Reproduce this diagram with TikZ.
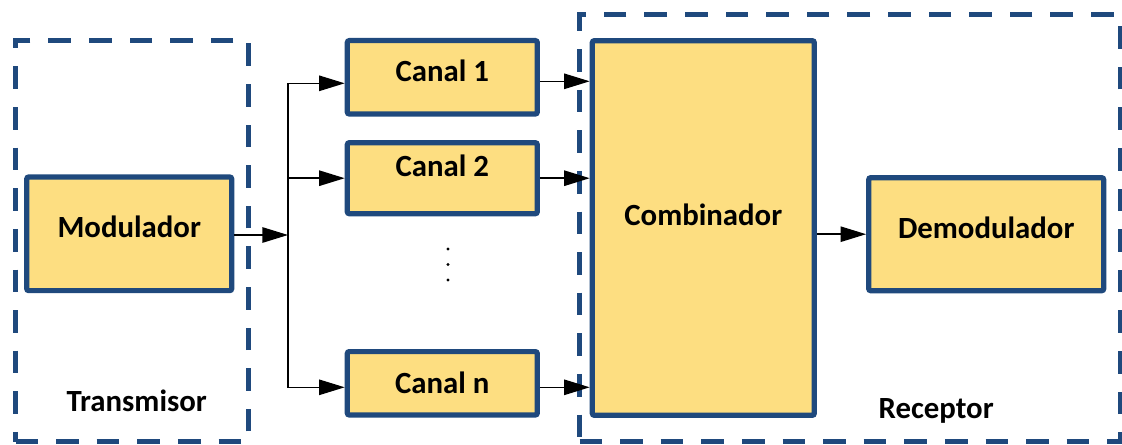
\documentclass[tikz,border=0pt]{standalone}
\usepackage{fontspec}
\setmainfont{Carlito}
\usetikzlibrary{arrows.meta,positioning}
\definecolor{bordeazul}{RGB}{31,73,125}
\definecolor{amarillo}{RGB}{253,222,129}

\begin{document}
\begin{tikzpicture}[x=0.5pt, y=-0.5pt,
    bloque/.style={draw=bordeazul, fill=amarillo, line width=2.6pt, rounded corners=1pt,
      inner sep=0pt, font=\fontsize{15.4}{18}\selectfont\bfseries},
    zona/.style={draw=bordeazul, line width=2.6pt, dash pattern=on 11.3pt off 9pt, inner sep=0pt},
    texto/.style={anchor=base, font=\fontsize{15.4}{18}\selectfont\bfseries},
    flecha/.style={line width=0.75pt, -{Triangle[length=12.8pt, width=7.7pt]}}]
            \useasboundingbox (0,0) rectangle (1122,444);

            % zonas
            \node (7) [zona, minimum width=116.6pt, minimum height=200.5pt] at (132.1,241.2) {};
            \node (8) [zona, minimum width=270.4pt, minimum height=213.45pt] at (849.9,228.25) {};
            \node (11) [texto] at (136.7,411.7) {Transmisor};
            \node (12) [texto] at (936.2,418.3) {Receptor};

            % bloques
            \node (1) [bloque, minimum width=102.5pt, minimum height=56.8pt, text depth=7pt] at (129.2,233.8) {Modulador};
            \node (2) [bloque, minimum width=95pt, minimum height=36.7pt, text depth=6.5pt] at (442.3,77.3) {Canal 1};
            \node (3) [bloque, minimum width=95pt, minimum height=35.5pt, text depth=13pt, node distance=50.45pt, below of=2] {Canal 2};
            \node (4) [bloque, minimum width=95pt, minimum height=31.7pt, node distance=102.55pt, below of=3] {Canal n};
            \node (5) [bloque, minimum width=111pt, minimum height=187.3pt, text depth=13pt] at (703.3,228) {Combinador};
            \node (6) [bloque, minimum width=117.5pt, minimum height=56.5pt, text depth=6.5pt] at (986.2,234.2) {Demodulador};

            % puntos entre canales
            \foreach \y in {249,264.5,280}
              \fill (448,\y) circle (1.7);

            \coordinate (10) at (288,235);

            \draw [flecha] (10 -| 1.east) to (10);
            \draw [flecha] (10) |- ([yshift=-3pt]2.west);
            \draw [flecha] (10) |- (3.west);
            \draw [flecha] (10) |- ([yshift=-2pt]4.west);

            \draw [flecha] ([yshift=-2pt]2.east) to ([yshift=-2pt]2.east -| 5.west);
            \draw [flecha] (3.east) to (3.east -| 5.west);
            \draw [flecha] ([yshift=-2pt]4.east) to ([yshift=-2pt]4.east -| 5.west);

            \draw [flecha] (5.east |- 6) to (6);
        \end{tikzpicture}
\end{document}
